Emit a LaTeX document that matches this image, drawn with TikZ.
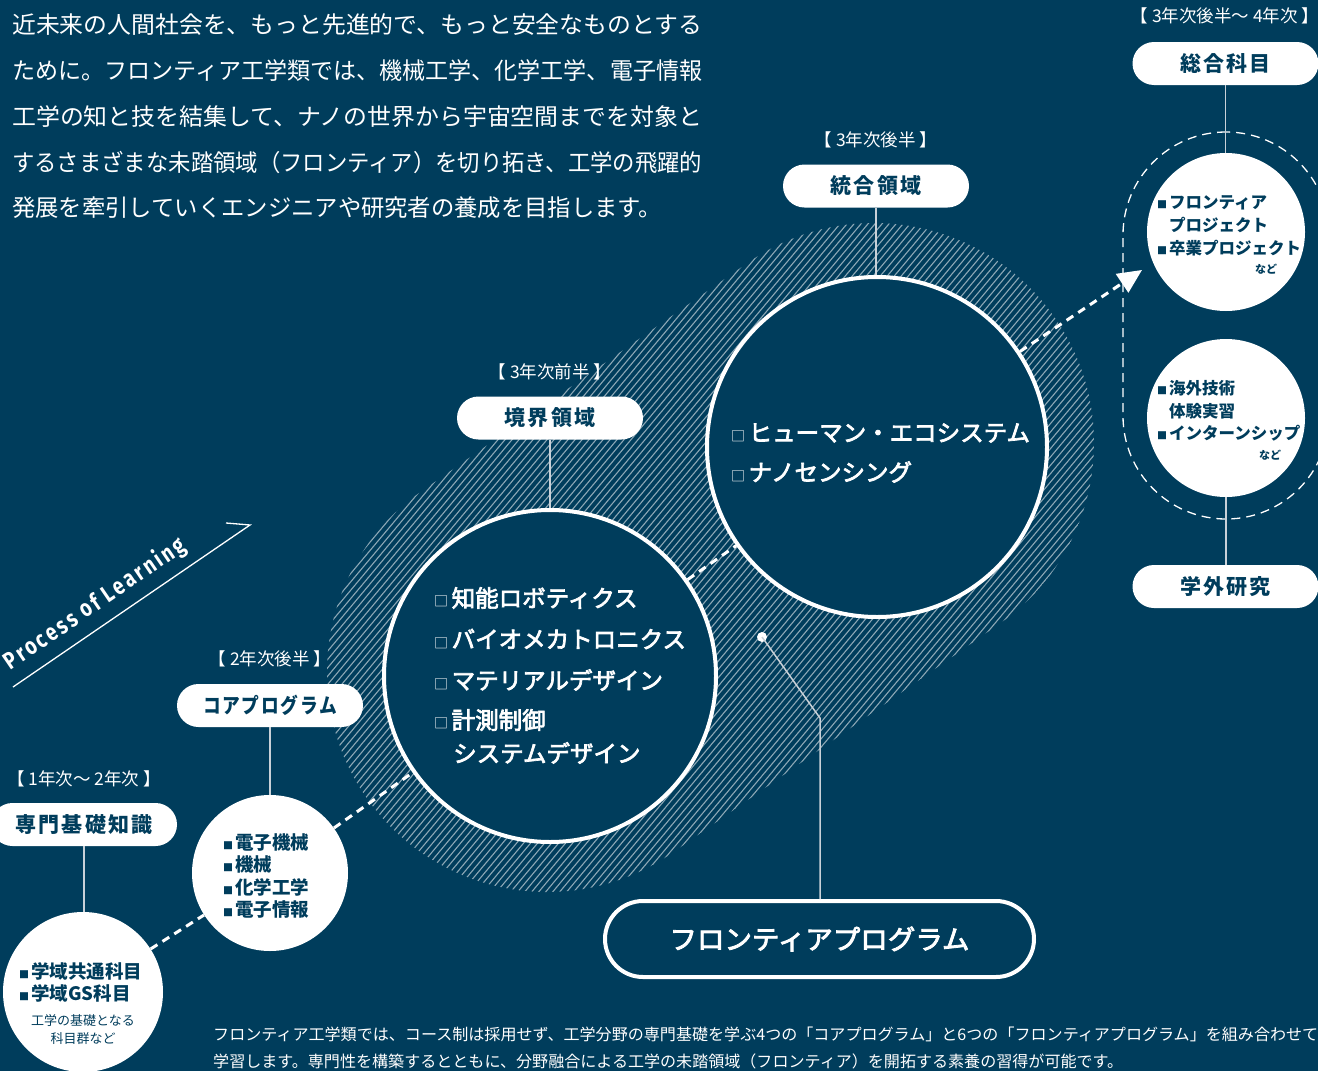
\documentclass[tikz,border=0pt]{standalone}
\usepackage{fontspec}
\setmainfont{Noto Sans CJK JP}
\newfontfamily\jpm{Noto Sans CJK JP}[FakeBold=3]
\newfontfamily\polfont{Fira Sans}[LetterSpace=14]
\usetikzlibrary{calc,arrows.meta}
\definecolor{navy}{HTML}{003D5C}
\definecolor{linegrey}{HTML}{C9D1D8}
\newcommand{\fs}[1]{\fontsize{#1}{#1}\selectfont}
\newcommand{\wsq}{{\fs{14}\rmfamily □}\hspace{3.5pt}}
\newcommand{\bsq}{{\fs{10}■}\hspace{2pt}}
\newcommand{\fitw}[2]{\resizebox{#1}{\height}{#2}}
\begin{document}
\begin{tikzpicture}[x=1pt,y=-1pt,
  pill/.style={fill=white, rounded corners=21.5pt, minimum width=186pt, minimum height=43pt, inner sep=0pt, text=navy, font=\fs{21}\bfseries\addfontfeatures{LetterSpace=10}},
  yearlbl/.style={text=white, inner sep=0pt, font=\fs{17.5}},
  bigc/.style={circle, draw=white, line width=4pt, fill=navy, inner sep=0pt},
  smallc/.style={circle, fill=white, inner sep=0pt},
  vline/.style={draw=linegrey, line width=1.5pt},
  dline/.style={draw=white, line width=3pt, dash pattern=on 8pt off 6pt},
  wtxt/.style={text=white, inner sep=0pt, anchor=west},
  ntxt/.style={text=navy, inner sep=0pt, anchor=west},
  hatchline/.style={draw=white, draw opacity=0.55, line width=1.1pt},
]
\useasboundingbox (0,0) rectangle (1318,1071);
\clip (0,0) rectangle (1318,1071);
\fill[navy] (0,0) rectangle (1318,1071);

% hatched band
\coordinate (h1) at (547,672);
\coordinate (h2) at (874,443);
\begin{scope}
  \clip ($(h1)+(55:220)$) -- ($(h2)+(55:220)$) arc[start angle=55,end angle=-125,radius=220]
        -- ($(h1)+(-125:220)$) arc[start angle=-125,end angle=-305,radius=220] -- cycle;
  \foreach \s in {-420,-413,...,1120} \draw[hatchline] (\s,1000) -- ++(671,-800);
\end{scope}

% top paragraph
\node[wtxt, font=\fs{23.5}] (para1) at (12,25) {\fitw{690pt}{近未来の人間社会を、もっと先進的で、もっと安全なものとする}};
\node[wtxt, font=\fs{23.5}] (para2) at (12,71) {\fitw{690pt}{ために。フロンティア工学類では、機械工学、化学工学、電子情報}};
\node[wtxt, font=\fs{23.5}] (para3) at (12,117) {\fitw{690pt}{工学の知と技を結集して、ナノの世界から宇宙空間までを対象と}};
\node[wtxt, font=\fs{23.5}] (para4) at (12,162) {\fitw{690pt}{するさまざまな未踏領域（フロンティア）を切り拓き、工学の飛躍的}};
\node[wtxt, font=\fs{23.5}] (para5) at (12,208) {\fitw{650pt}{発展を牽引していくエンジニアや研究者の養成を目指します。}};

% big circles
\node[bigc, minimum size=332pt] (c1) at (550,676) {};
\node[bigc, minimum size=340pt] (c2) at (877,447) {};

% small circles
\node[smallc, minimum size=156pt] (s1) at (270,873) {};
\node[smallc, minimum size=160pt] (s0) at (83,992) {};
\node[smallc, minimum size=158pt] (r1) at (1226,232) {};
\node[smallc, minimum size=158pt] (r2) at (1226,418) {};

% dashed ring on the right
\node[draw=white, line width=1.3pt, dash pattern=on 9pt off 6pt, rounded corners=103pt,
      minimum width=206pt, minimum height=387pt, inner sep=0pt] (ring) at (1226,325.5) {};

% pills
\node[pill] (p0) at (84,824.5) {専門基礎知識};
\node[pill] (p1) at (270,705.5) {\fitw{134pt}{コアプログラム}};
\node[pill] (p2) at (550,418) {境界領域};
\node[pill] (p3) at (876,186) {統合領域};
\node[pill] (p4) at (1225.5,63.5) {総合科目};
\node[pill] (p5) at (1225.5,586.5) {学外研究};

% year labels
\node[yearlbl] (y0) at (84,779) {【 1年次～ 2年次 】};
\node[yearlbl] (y1) at (270,659) {【 2年次後半 】};
\node[yearlbl] (y2) at (550,372) {【 3年次前半 】};
\node[yearlbl] (y3) at (876,140) {【 3年次後半 】};
\node[yearlbl] (y4) at (1225,16) {【 3年次後半～ 4年次 】};

% vertical connectors
\draw[vline] (p4.south) -- (p4.south |- r1.north);
\draw[vline] (r2.south) -- (r2.south |- p5.north);
\draw[vline] (p3.south) -- (p3.south |- c2.north);
\draw[vline] (p2.south) -- (p2.south |- c1.north);
\draw[vline] (p1.south) -- (p1.south |- s1.north);
\draw[vline] (p0.south) -- (p0.south |- s0.north);

% dashed connectors
\coordinate (atip) at (1142,270);
\draw[dline] (s0) -- (s1);
\draw[dline] (s1) -- (c1);
\draw[dline] (c1) -- (c2);
\draw[dline, -{Triangle[length=24pt,width=22pt]}] (c2) -- (atip);

% frontier program box
\node[draw=white, line width=4pt, rounded corners=38pt, minimum width=429pt, minimum height=76pt,
      text=white, font=\fs{27}\jpm, inner sep=0pt] (fp) at (819.5,939) {\fitw{300pt}{フロンティアプログラム}};
\node[circle, fill=white, minimum size=10pt, inner sep=0pt] (fdot) at (762,637) {};
\coordinate (fbend) at (820,718);
\draw[vline] (fdot.center) -- (fbend) -- (fbend |- fp.north);

% process of learning
\coordinate (pl0) at (13,687);
\coordinate (pl1) at (250,525);
\coordinate (pl2) at (226,523);
\draw[white, line width=1.3pt] (pl0) -- (pl1) -- (pl2);
\node[text=white, rotate=34.4, inner sep=0pt] (pol) at (95,604)
  {\fitw{214pt}{\polfont\bfseries\fs{24}Process of Learning}};

% big circle texts
\node[wtxt, font=\fs{23.5}\jpm] (k1) at (434,598) {\wsq 知能ロボティクス};
\node[wtxt, font=\fs{23.5}\jpm] (k2) at (434,639) {\wsq バイオメカトロニクス};
\node[wtxt, font=\fs{23.5}\jpm] (k3) at (434,680) {\wsq マテリアルデザイン};
\node[wtxt, font=\fs{23.5}\jpm] (k4) at (434,720) {\wsq 計測制御};
\node[wtxt, font=\fs{23.5}\jpm] (k5) at (453,753) {システムデザイン};
\node[wtxt, font=\fs{23.5}\jpm] (m1) at (731,433) {\wsq ヒューマン・エコシステム};
\node[wtxt, font=\fs{23.5}\jpm] (m2) at (731,472) {\wsq ナノセンシング};

% small circle texts
\node[ntxt, font=\fs{18.5}\bfseries] (e1) at (223,842) {\bsq 電子機械};
\node[ntxt, font=\fs{18.5}\bfseries] (e2) at (223,864) {\bsq 機械};
\node[ntxt, font=\fs{18.5}\bfseries] (e3) at (223,887) {\bsq 化学工学};
\node[ntxt, font=\fs{18.5}\bfseries] (e4) at (223,909) {\bsq 電子情報};

\node[ntxt, font=\fs{18.5}\bfseries] (g1) at (19,971) {\bsq 学域共通科目};
\node[ntxt, font=\fs{18.5}\bfseries] (g2) at (19,993) {\bsq 学域GS科目};
\node[text=navy, inner sep=0pt, font=\fs{13}] (g3) at (83,1021) {工学の基礎となる};
\node[text=navy, inner sep=0pt, font=\fs{13}] (g4) at (83,1039) {科目群など};

\node[ntxt, font=\fs{16.5}\bfseries] (f1) at (1157,203) {\bsq フロンティア};
\node[ntxt, font=\fs{16.5}\bfseries] (f2) at (1169,225) {プロジェクト};
\node[ntxt, font=\fs{16.5}\bfseries] (f3) at (1157,248) {\bsq 卒業プロジェクト};
\node[text=navy, inner sep=0pt, font=\fs{11}\bfseries] (f4) at (1266,269) {など};

\node[ntxt, font=\fs{16.5}\bfseries] (o1) at (1157,388) {\bsq 海外技術};
\node[ntxt, font=\fs{16.5}\bfseries] (o2) at (1169,411) {体験実習};
\node[ntxt, font=\fs{16.5}\bfseries] (o3) at (1157,433) {\bsq インターンシップ};
\node[text=navy, inner sep=0pt, font=\fs{11}\bfseries] (o4) at (1270,455) {など};

% bottom caption
\node[wtxt, font=\fs{16}] (cap1) at (213,1034) {\fitw{1105pt}{フロンティア工学類では、コース制は採用せず、工学分野の専門基礎を学ぶ4つの「コアプログラム」と6つの「フロンティアプログラム」を組み合わせて}};
\node[wtxt, font=\fs{16}] (cap2) at (213,1061) {\fitw{910pt}{学習します。専門性を構築するとともに、分野融合による工学の未踏領域（フロンティア）を開拓する素養の習得が可能です。}};
\end{tikzpicture}
\end{document}
